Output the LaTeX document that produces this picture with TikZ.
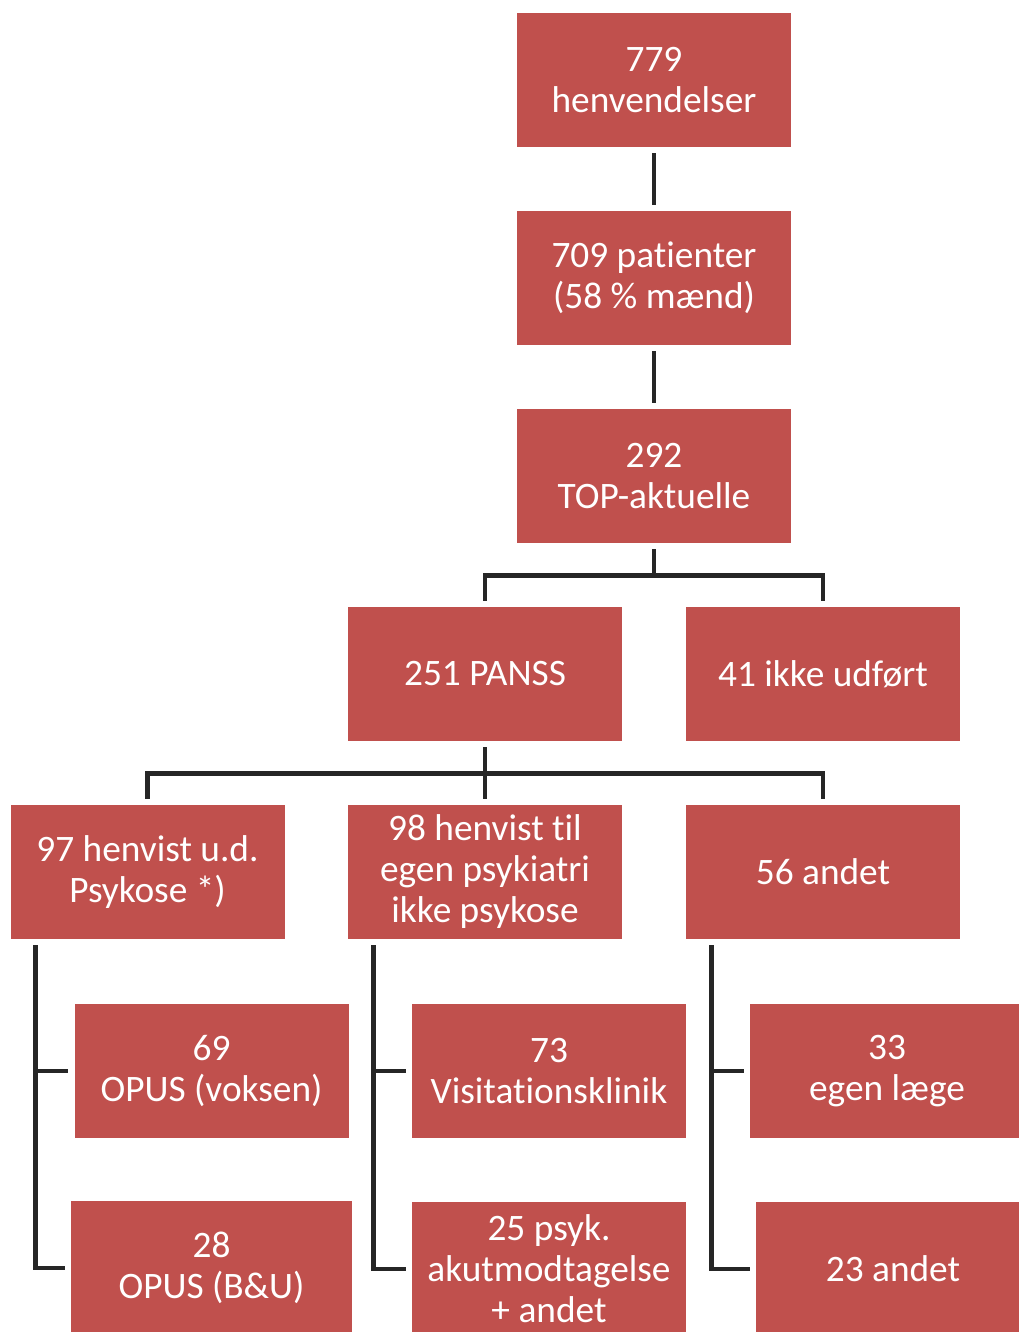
\documentclass[tikz,border=0pt]{standalone}
\usepackage{fontspec}
\setmainfont{Carlito}[Ligatures=NoCommon]
\usepackage{xcolor}
\usetikzlibrary{positioning}
\definecolor{boxred}{HTML}{C0504D}
\definecolor{linegray}{HTML}{262626}

\begin{document}
\begin{tikzpicture}[x=0.75pt, y=-0.75pt,
    box/.style={fill=boxred, text=white, minimum width=205.5pt, minimum height=100.5pt,
      inner sep=0pt, align=center, font=\fontsize{28}{30.75}\selectfont},
    conn/.style={draw=linegray, line width=3.5pt, shorten <=4.5pt, shorten >=4.5pt}]
        \useasboundingbox (0,0) rectangle (1019,1332);
        % top chain
        \node[box] (n779) at (654,80) {779\\henvendelser};
        \node[box] (n709) at (654,278) {709 patienter\\(58 \% mænd)};
        \node[box] (n292) at (654,476) {292\\TOP-aktuelle};
        \node[box] (n251) at (485,674) {251 PANSS};
        \node[box] (n41) at (823,674) {41 ikke udført};
        % second level
        \node[box] (n97) at (147.5,872) {97 henvist u.d.\\Psykose *)};
        \node[box] (n98) at (485,872) {98 henvist til\\egen psykiatri\\ikke psykose};
        \node[box] (n56) at (823,872) {56 andet};
        % leaves
        \node[box] (n69) at (211.5,1071) {69\\OPUS (voksen)};
        \node[box, minimum width=210.75pt] (n28) at (211.5,1268) {28\\OPUS (B\&U)};
        \node[box] (n73) at (549,1071) {73\\Visitationsklinik};
        \node[box] (n25) at (549,1269) {25 psyk.\\akutmodtagelse\\+ andet};
        \node[box] (n33) at (887,1071) {33\\egen læge};
        \node[box] (n23) at (893,1269) {23 andet};

        \draw[conn] (n779) -- (n709);
        \draw[conn] (n709) -- (n292);
        \draw[conn] (n292.south) -- ++(0,32) -| (n251.north);
        \draw[conn] (n292.south) -- ++(0,32) -| (n41.north);
        \draw[conn] (n251.south) -- ++(0,32) -| (n97.north);
        \draw[conn] (n251.south) -- ++(0,32) -| (n98.north);
        \draw[conn] (n251.south) -- ++(0,32) -| (n56.north);
        \draw[conn] ([xshift=18.75pt]n97.south west) |- (n69.west);
        \draw[conn] ([xshift=18.75pt]n97.south west) |- (n28.west);
        \draw[conn] ([xshift=19.5pt]n98.south west) |- (n73.west);
        \draw[conn] ([xshift=19.5pt]n98.south west) |- (n25.west);
        \draw[conn] ([xshift=19.5pt]n56.south west) |- (n33.west);
        \draw[conn] ([xshift=19.5pt]n56.south west) |- (n23.west);
      \end{tikzpicture}
\end{document}
